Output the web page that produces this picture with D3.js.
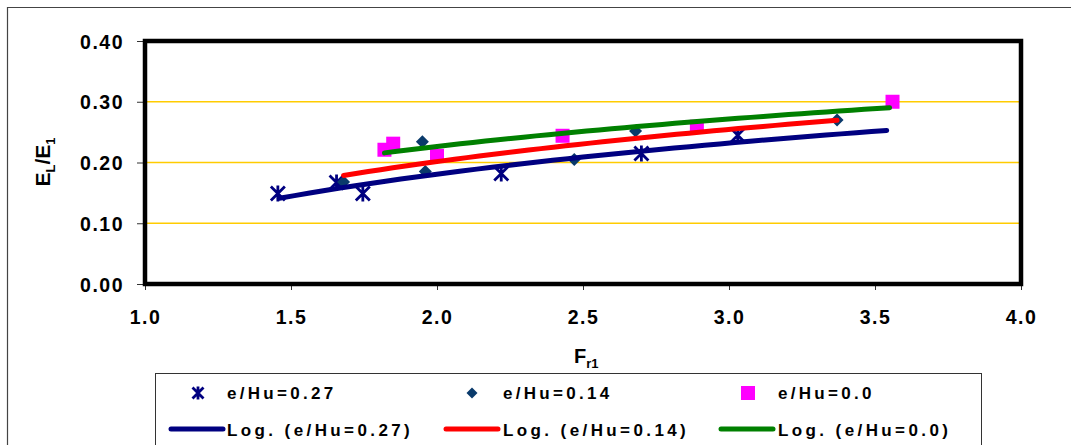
<!DOCTYPE html>
<html>
<head>
<meta charset="utf-8">
<script src="https://cdn.jsdelivr.net/npm/d3@7"></script>
<style>
  html, body { margin: 0; padding: 0; background: #fff; }
  svg { display: block; }
  text { font-family: "Liberation Sans", Arial, sans-serif; font-weight: bold; fill: #000; }
</style>
</head>
<body>
<svg id="chart" width="1071" height="445"></svg>
<script>
// ---- data ----
const x27 = [1.455, 1.656, 1.746, 2.22, 2.70, 3.03];
const y27 = [0.149, 0.167, 0.149, 0.182, 0.215, 0.245];
const x14 = [1.68, 1.95, 1.96, 2.47, 2.68, 3.37];
const y14 = [0.168, 0.234, 0.185, 0.205, 0.252, 0.270];
const x00 = [1.82, 1.85, 2.00, 2.43, 2.89, 3.56];
const y00 = [0.221, 0.231, 0.211, 0.244, 0.259, 0.300];
const trendRange27 = [1.46, 3.54];
const trendRange14 = [1.68, 3.37];
const trendRange00 = [1.82, 3.55];
const xTicks = [1.0, 1.5, 2.0, 2.5, 3.0, 3.5, 4.0];
const yTicks = [0.0, 0.1, 0.2, 0.3, 0.4];
const gridValues = [0.1, 0.2, 0.3];
const seriesNames = ["e/Hu=0.27", "e/Hu=0.14", "e/Hu=0.0"];
const trendNames = ["Log. (e/Hu=0.27)", "Log. (e/Hu=0.14)", "Log. (e/Hu=0.0)"];

const svg = d3.select("#chart");
const L = 145, R = 1021, T = 41, B = 284;
const x = d3.scaleLinear().domain([1, 4]).range([L, R]);
const y = d3.scaleLinear().domain([0, 0.4]).range([B, T]);

// outer chart area border
svg.append("path").attr("d", "M7.5,445 L7.5,7.5 L1071,7.5")
  .attr("fill", "none").attr("stroke", "#444").attr("stroke-width", 1.2);

// gridlines
const grid = svg.append("g");
gridValues.forEach(v => {
  grid.append("line")
    .attr("x1", L).attr("x2", R)
    .attr("y1", y(v)).attr("y2", y(v))
    .attr("stroke", "#FFCC00").attr("stroke-width", 1.3);
});

// axes
const yAxis = d3.axisLeft(y).tickValues(yTicks).tickFormat(d3.format(".2f")).tickSize(8).tickPadding(13);
const gy = svg.append("g").attr("transform", `translate(${L},0)`).call(yAxis);
const xAxis = d3.axisBottom(x).tickValues(xTicks).tickFormat(d3.format(".1f")).tickSize(6).tickPadding(20);
const gx = svg.append("g").attr("transform", `translate(0,${B})`).call(xAxis);
[gy, gx].forEach(g => {
  g.select(".domain").remove();
  g.selectAll(".tick line").attr("stroke", "#333").attr("stroke-width", 1);
  g.selectAll(".tick text").style("font-size", "19.5px").style("letter-spacing", "1.5px")
    .style("font-family", '"Liberation Sans", Arial, sans-serif').style("font-weight", "bold");
});
gy.selectAll(".tick text").attr("dy", "0.36em");

// marker drawers
function star(g, cx, cy, s, color) {
  const h = s / 2;
  g.append("path")
    .attr("d", `M${cx - h},${cy - h}L${cx + h},${cy + h}M${cx - h},${cy + h}L${cx + h},${cy - h}M${cx},${cy - h - 1}L${cx},${cy + h + 1}`)
    .attr("stroke", color).attr("stroke-width", 2.8).attr("fill", "none");
}
function diamond(g, cx, cy, s, color) {
  const h = s / 2;
  g.append("path").attr("d", `M${cx},${cy - h}L${cx + h},${cy}L${cx},${cy + h}L${cx - h},${cy}Z`)
    .attr("fill", color);
}
function square(g, cx, cy, s, color) {
  g.append("rect").attr("x", cx - s / 2).attr("y", cy - s / 2).attr("width", s).attr("height", s)
    .attr("fill", color);
}

const navy = "#000080", dia = "#0A3A6B", mag = "#FF00FF";
const marks = svg.append("g");
x27.forEach((v, i) => star(marks, x(v), y(y27[i]), 14, navy));
x14.forEach((v, i) => diamond(marks, x(v), y(y14[i]), 13, dia));
x00.forEach((v, i) => square(marks, x(v), y(y00[i]), 14, mag));

// logarithmic trendlines (least squares on ln x)
function logFit(xs, ys) {
  const lx = xs.map(Math.log);
  const mx = d3.mean(lx), my = d3.mean(ys);
  const b = d3.sum(lx, (v, i) => (v - mx) * (ys[i] - my)) / d3.sum(lx, v => (v - mx) ** 2);
  return { a: my - b * mx, b };
}
const line = d3.line().x(d => x(d[0])).y(d => y(d[1]));
const trends = [
  { xs: x27, ys: y27, r: trendRange27, c: "#000080" },
  { xs: x14, ys: y14, r: trendRange14, c: "#FF0000" },
  { xs: x00, ys: y00, r: trendRange00, c: "#008000" }
];
trends.forEach(t => {
  const f = logFit(t.xs, t.ys);
  const n = 40;
  const pts = d3.range(n + 1).map(k => {
    const xv = t.r[0] + (t.r[1] - t.r[0]) * k / n;
    return [xv, f.a + f.b * Math.log(xv)];
  });
  svg.append("path").datum(pts).attr("d", line)
    .attr("fill", "none").attr("stroke", t.c).attr("stroke-width", 5).attr("stroke-linecap", "round");
});

// plot frame
svg.append("rect").attr("x", L).attr("y", T).attr("width", R - L).attr("height", B - T)
  .attr("fill", "none").attr("stroke", "#000").attr("stroke-width", 4.5);

// axis titles
const xt = svg.append("text").attr("x", 574).attr("y", 363).style("font-size", "20px");
xt.append("tspan").text("F");
xt.append("tspan").attr("dy", 5).style("font-size", "13px").text("r1");

const yt = svg.append("text").attr("transform", "translate(50,162) rotate(-90)")
  .attr("text-anchor", "middle").style("font-size", "21px");
yt.append("tspan").text("E");
yt.append("tspan").attr("dy", 5).style("font-size", "13px").text("L");
yt.append("tspan").attr("dy", -5).text("/E");
yt.append("tspan").attr("dy", 5).style("font-size", "13px").text("1");

// legend
svg.append("rect").attr("x", 155.5).attr("y", 373.5).attr("width", 826).attr("height", 80)
  .attr("fill", "#fff").attr("stroke", "#333").attr("stroke-width", 1);
const lg = svg.append("g");
const colX = [171, 446, 721];
const textX = [227, 503, 778];
const row1 = 393, row2 = 429;
star(lg, 198, row1, 11, navy);
diamond(lg, 472, row1, 11, dia);
square(lg, 748, row1, 14, mag);
seriesNames.forEach((s, i) => {
  lg.append("text").attr("x", textX[i]).attr("y", row1 + 6).style("font-size", "17px")
    .style("letter-spacing", "3.3px").text(s);
});
const tcols = ["#000080", "#FF0000", "#008000"];
trendNames.forEach((s, i) => {
  lg.append("line").attr("x1", colX[i]).attr("x2", colX[i] + 52).attr("y1", row2).attr("y2", row2)
    .attr("stroke", tcols[i]).attr("stroke-width", 5).attr("stroke-linecap", "round");
  lg.append("text").attr("x", textX[i]).attr("y", row2 + 7).style("font-size", "17px")
    .style("letter-spacing", "3.4px").text(s);
});
</script>
</body>
</html>
